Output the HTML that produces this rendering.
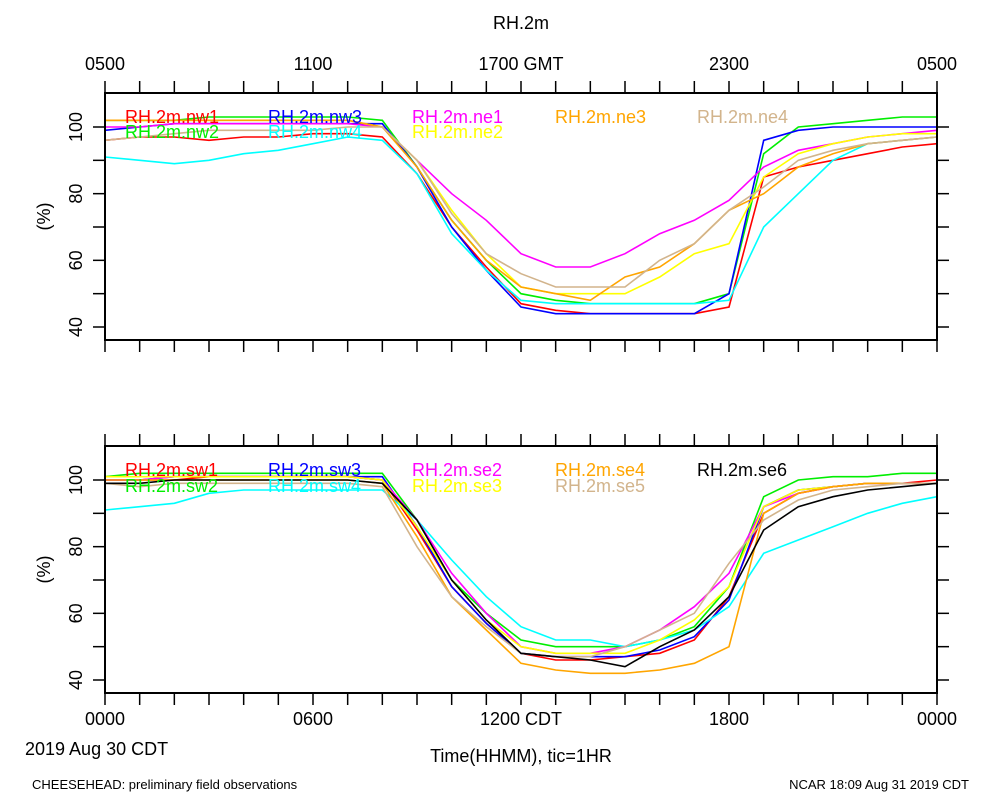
<!DOCTYPE html>
<html><head><meta charset="utf-8">
<style>
body{margin:0;background:#fff;}
svg{display:block;font-family:"Liberation Sans",sans-serif;}
</style></head>
<body>
<svg id="chart" width="1000" height="800"></svg>
<script>
// ---- data (hourly, 0..24 CDT) ----
const hours=[0,1,2,3,4,5,6,7,8,9,10,11,12,13,14,15,16,17,18,19,20,21,22,23,24];
const topNames=["RH.2m.nw1","RH.2m.nw2","RH.2m.nw3","RH.2m.nw4","RH.2m.ne1","RH.2m.ne2","RH.2m.ne3","RH.2m.ne4"];
const topColors=["#ff0000","#00ee00","#0000ff","#00ffff","#ff00ff","#ffff00","#ffa500","#d2b48c"];
const nw1=[96,97,97,96,97,97,98,98,97,86,70,58,47,45,44,44,44,44,46,85,88,90,92,94,95];
const nw2=[102,102,102,103,103,103,103,103,102,88,72,60,50,48,47,47,47,47,50,92,100,101,102,103,103];
const nw3=[99,100,101,101,101,101,101,101,101,88,70,57,46,44,44,44,44,44,50,96,99,100,100,100,100];
const nw4=[91,90,89,90,92,93,95,97,96,86,68,57,48,47,47,47,47,47,48,70,80,90,95,96,97];
const ne1=[100,100,101,101,101,101,101,101,100,90,80,72,62,58,58,62,68,72,78,88,93,95,97,98,99];
const ne2=[102,102,102,102,102,102,102,102,100,90,75,62,52,50,50,50,55,62,65,85,92,95,97,98,98];
const ne3=[102,102,102,102,102,102,102,102,100,88,72,60,52,50,48,55,58,65,75,80,88,92,95,96,97];
const ne4=[96,97,98,99,99,99,99,100,100,90,74,62,56,52,52,52,60,65,75,82,90,93,95,96,97];
const topSeries=[nw1,nw2,nw3,nw4,ne1,ne2,ne3,ne4];

const botNames=["RH.2m.sw1","RH.2m.sw2","RH.2m.sw3","RH.2m.sw4","RH.2m.se2","RH.2m.se3","RH.2m.se4","RH.2m.se5","RH.2m.se6"];
const botColors=["#ff0000","#00ee00","#0000ff","#00ffff","#ff00ff","#ffff00","#ffa500","#d2b48c","#000000"];
const sw1=[100,100,100,101,101,101,101,101,100,85,68,57,48,46,46,47,48,52,65,90,96,98,99,99,100];
const sw2=[101,102,102,102,102,102,102,102,102,88,70,60,52,50,50,50,52,56,68,95,100,101,101,102,102];
const sw3=[100,100,101,101,101,101,101,101,101,86,68,57,48,47,47,47,49,53,64,92,97,98,99,99,99];
const sw4=[91,92,93,96,97,97,97,97,97,88,76,65,56,52,52,50,52,55,62,78,82,86,90,93,95];
const se2=[100,100,101,101,101,101,101,101,100,88,72,60,50,48,48,50,55,62,72,92,96,98,99,99,99];
const se3=[101,101,101,101,101,101,101,101,100,86,70,58,50,48,48,48,52,58,68,92,97,98,99,99,99];
const se4=[100,100,100,100,100,100,100,100,99,83,65,55,45,43,42,42,43,45,50,90,96,98,99,99,99];
const se5=[99,98,99,99,99,99,99,99,98,80,65,56,48,47,47,50,55,60,75,88,94,97,98,99,99];
const se6=[99,99,100,100,100,100,100,100,99,88,70,58,48,47,46,44,50,55,65,85,92,95,97,98,99];
const botSeries=[sw1,sw2,sw3,sw4,se2,se3,se4,se5,se6];

const yTicks=[40,60,80,100];
const topXLabels=["0500","1100","1700 GMT","2300","0500"];
const botXLabels=["0000","0600","1200 CDT","1800","0000"];

const NS="http://www.w3.org/2000/svg";
const svg=document.getElementById("chart");
const X0=105,X1=937;
function xs(h){return X0+(X1-X0)*h/24;}
function mk(tag,attrs,parent){const e=document.createElementNS(NS,tag);for(const k in attrs)e.setAttribute(k,attrs[k]);(parent||svg).appendChild(e);return e;}

function panel(top,bottom,y40,y100,series,colors,names,xlabels,labelY,legY,pname){
  const g=mk("g",{});
  
  
  const ys=v=>y40-(v-40)*(y40-y100)/60;
  series.forEach((s,i)=>{
    const d=s.map((v,j)=>(j?"L":"M")+xs(hours[j]).toFixed(1)+","+ys(v).toFixed(1)).join("");
    const p=mk("path",{d:d,fill:"none",stroke:colors[i],"stroke-width":1.6},g);
    
    
  });
  const r=mk("rect",{x:X0,y:top,width:X1-X0,height:bottom-top,fill:"none",stroke:"#000","stroke-width":2},g);
  
  
  for(let h=0;h<=24;h++){
    mk("line",{x1:xs(h),x2:xs(h),y1:top,y2:top-12,stroke:"#000","stroke-width":1.5},g);
    mk("line",{x1:xs(h),x2:xs(h),y1:bottom,y2:bottom+12,stroke:"#000","stroke-width":1.5},g);
  }
  for(let v=40;v<=100;v+=10){
    mk("line",{x1:X0,x2:X0-12,y1:ys(v),y2:ys(v),stroke:"#000","stroke-width":1.5},g);
    mk("line",{x1:X1,x2:X1+12,y1:ys(v),y2:ys(v),stroke:"#000","stroke-width":1.5},g);
  }
  yTicks.forEach(v=>{
    const t=mk("text",{x:0,y:0,"font-size":18,"text-anchor":"middle",transform:`translate(82,${ys(v)}) rotate(-90)`},g);
    t.textContent=v;
    
    
  });
  const yt=mk("text",{x:0,y:0,"font-size":18,"text-anchor":"middle",transform:`translate(50,${(top+bottom)/2}) rotate(-90)`},g);
  yt.textContent="(%)";
  
  
  xlabels.forEach((l,i)=>{
    const t=mk("text",{x:xs(i*6),y:labelY,"font-size":18,"text-anchor":"middle"},g);
    t.textContent=l;
    
    
  });
  names.forEach((n,i)=>{
    const pos=(pname==="top-panel")?
      [[125,0],[125,1],[268,0],[268,1],[412,0],[412,1],[555,0],[697,0]][i]:
      [[125,0],[125,1],[268,0],[268,1],[412,0],[412,1],[555,0],[555,1],[697,0]][i];
    const t=mk("text",{x:pos[0],y:legY[pos[1]],"font-size":18,fill:colors[i]},g);
    t.textContent=n;
    
    
  });
}
panel(93,340,327,127,topSeries,topColors,topNames,topXLabels,70,[123,138],"top-panel");
panel(446,693,680,480,botSeries,botColors,botNames,botXLabels,725,[476,492],"bottom-panel");

function txt(x,y,s,size,anchor,name){const t=mk("text",{x:x,y:y,"font-size":size,"text-anchor":anchor});t.textContent=s;
  
  }
txt(521,29,"RH.2m",18,"middle","chart-title");
txt(25,755,"2019 Aug 30 CDT",18,"start","date-label");
txt(521,762,"Time(HHMM), tic=1HR",18,"middle","x-axis-title");
txt(32,789,"CHEESEHEAD: preliminary field observations",13,"start","footer-left");
txt(969,789,"NCAR 18:09 Aug 31 2019 CDT",13,"end","footer-right");
</script>
</body></html>
